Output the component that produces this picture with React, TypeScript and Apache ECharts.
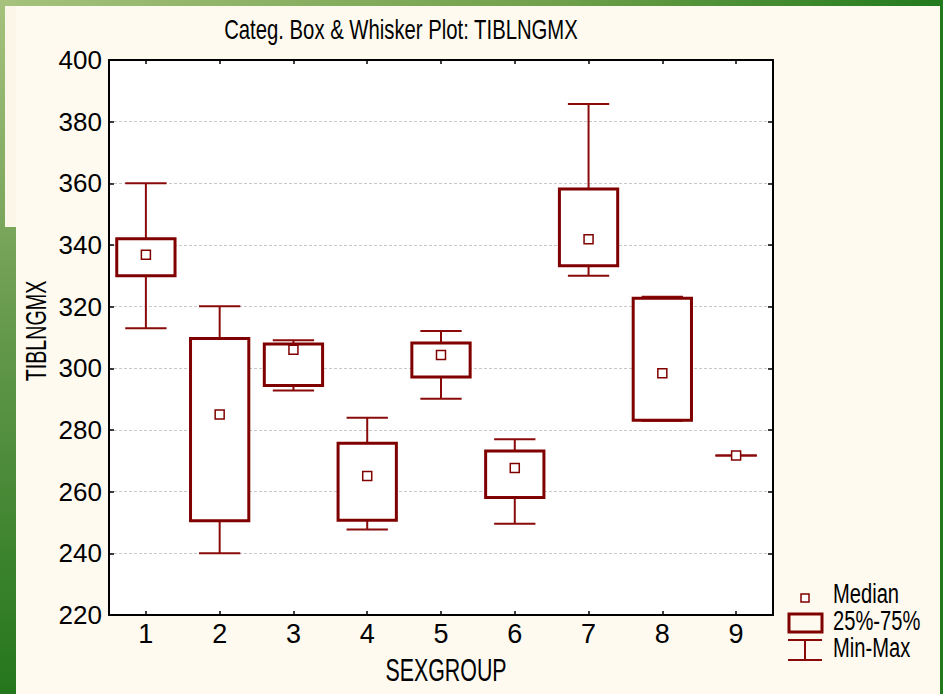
import React, { useEffect, useRef } from "react";
import * as echarts from "echarts";

// Groups on the category axis
const categories = ["1", "2", "3", "4", "5", "6", "7", "8", "9"];

// Box & whisker statistics per group (TIBLNGMX)
const minValues = [313.0, 240.0, 292.8, 247.7, 290.1, 249.6, 330.0, 283.0, 271.7];
const q1Values = [330.0, 250.6, 294.4, 250.7, 297.2, 258.1, 333.3, 283.2, 271.7];
const medianValues = [336.8, 285.0, 306.0, 265.1, 304.3, 267.7, 341.9, 298.4, 271.7];
const q3Values = [342.0, 309.7, 307.9, 275.7, 308.2, 273.2, 358.2, 322.7, 271.7];
const maxValues = [360.0, 320.1, 309.1, 284.0, 312.1, 277.0, 385.7, 323.2, 271.7];

const yTicks = { min: 220, max: 400, interval: 20 };

const titleText = "Categ. Box & Whisker Plot: TIBLNGMX";
const xName = "SEXGROUP";
const yName = "TIBLNGMX";
const legendLabels = ["Median", "25%-75%", "Min-Max"];

const SANS = "'Liberation Sans', Arial, sans-serif";
const BOX = "#800000";
const WHISKER = "#8a0a0a";

export default function App() {
  const ref = useRef<HTMLDivElement>(null);

  useEffect(() => {
    if (!ref.current) return;
    const chart = echarts.init(ref.current, null, { renderer: "svg" });

    const boxData = categories.map((_, i) => [
      i,
      minValues[i],
      q1Values[i],
      medianValues[i],
      q3Values[i],
      maxValues[i],
    ]);

    const renderItem = (params: any, api: any) => {
      const idx = api.value(0);
      const band = api.size([1, 0])[0];
      const boxW = band * 0.79;
      const capW = band * 0.56;
      const [cx, yMin] = api.coord([idx, api.value(1)]);
      const yQ1 = api.coord([idx, api.value(2)])[1];
      const yMed = api.coord([idx, api.value(3)])[1];
      const yQ3 = api.coord([idx, api.value(4)])[1];
      const yMax = api.coord([idx, api.value(5)])[1];
      const lineStyle = { stroke: WHISKER, lineWidth: 2 };
      const children: any[] = [
        { type: "line", shape: { x1: cx, y1: yMax, x2: cx, y2: yMin }, style: lineStyle },
        { type: "line", shape: { x1: cx - capW / 2, y1: yMax, x2: cx + capW / 2, y2: yMax }, style: lineStyle },
        { type: "line", shape: { x1: cx - capW / 2, y1: yMin, x2: cx + capW / 2, y2: yMin }, style: lineStyle },
      ];
      if (Math.abs(yQ1 - yQ3) > 0.5) {
        children.push({
          type: "rect",
          shape: { x: cx - boxW / 2, y: yQ3, width: boxW, height: yQ1 - yQ3 },
          style: { fill: "#ffffff", stroke: BOX, lineWidth: 3 },
        });
      }
      children.push({
        type: "rect",
        shape: { x: cx - 4.5, y: yMed - 4.5, width: 9, height: 9 },
        style: { fill: "#ffffff", stroke: BOX, lineWidth: 1.5 },
      });
      return { type: "group", children };
    };

    const legendX = 805;
    const legendTextX = 833;

    // condensed text helper: the plot's lettering is narrow, so squeeze horizontally
    const squeezed = (text: string, x: number, y: number, size: number, sx: number, align: string, rotation = 0) => ({
      type: "text",
      x,
      y,
      rotation,
      scaleX: sx,
      style: {
        text,
        fill: "#000",
        font: `${size}px ${SANS}`,
        textAlign: align,
        textVerticalAlign: "middle",
      },
    });

    chart.setOption({
      animation: false,
      backgroundColor: "#fefaef",
      grid: {
        left: 109,
        top: 60,
        right: 170,
        bottom: 79,
        show: true,
        backgroundColor: "#ffffff",
        borderWidth: 0,
      },
      xAxis: [
        {
          type: "category",
          data: categories,
          position: "bottom",
          axisLine: { show: true, lineStyle: { color: "#000", width: 2 } },
          axisTick: { show: true, inside: true, length: 4, alignWithLabel: true, lineStyle: { color: "#000", width: 1.5 } },
          axisLabel: { color: "#000", fontSize: 27, fontFamily: SANS, margin: 5 },
          splitLine: { show: false },
        },
        {
          type: "category",
          data: categories,
          position: "top",
          axisLine: { show: true, lineStyle: { color: "#000", width: 2 } },
          axisTick: { show: true, inside: true, length: 4, alignWithLabel: true, lineStyle: { color: "#000", width: 1.5 } },
          axisLabel: { show: false },
          splitLine: { show: false },
        },
      ],
      yAxis: [
        {
          type: "value",
          min: yTicks.min,
          max: yTicks.max,
          interval: yTicks.interval,
          position: "left",
          axisLine: { show: true, lineStyle: { color: "#000", width: 2 } },
          axisTick: { show: true, inside: true, length: 5, lineStyle: { color: "#000", width: 1.5 } },
          axisLabel: { color: "#000", fontSize: 26, fontFamily: SANS, margin: 7 },
          splitLine: { show: true, lineStyle: { color: "#c8c8c8", type: [3, 2], width: 1 } },
        },
        {
          type: "value",
          min: yTicks.min,
          max: yTicks.max,
          interval: yTicks.interval,
          position: "right",
          axisLine: { show: true, lineStyle: { color: "#000", width: 2 } },
          axisTick: { show: true, inside: true, length: 5, lineStyle: { color: "#000", width: 1.5 } },
          axisLabel: { show: false },
          splitLine: { show: false },
        },
      ],
      series: [
        {
          type: "custom",
          xAxisIndex: 0,
          yAxisIndex: 0,
          data: boxData,
          encode: { x: 0, y: [1, 2, 3, 4, 5] },
          renderItem,
          z: 5,
        },
      ],
      graphic: [
        // slide backdrop: green frame around the cream panel
        {
          type: "rect",
          shape: { x: 0, y: 0, width: 943, height: 6 },
          style: {
            fill: new echarts.graphic.LinearGradient(0, 0, 1, 0, [
              { offset: 0, color: "#a6c27c" },
              { offset: 0.6, color: "#6f9f4a" },
              { offset: 1, color: "#217a1c" },
            ]),
          },
          z: -10,
        },
        {
          type: "rect",
          shape: { x: 0, y: 0, width: 16, height: 694 },
          style: {
            fill: new echarts.graphic.LinearGradient(0, 0, 0, 1, [
              { offset: 0, color: "#a6c27c" },
              { offset: 0.5, color: "#62974a" },
              { offset: 1, color: "#24761c" },
            ]),
          },
          z: -10,
        },
        {
          type: "rect",
          shape: { x: 5, y: 6, width: 11, height: 221 },
          style: { fill: "#fbf6e8" },
          z: -9,
        },
        {
          type: "rect",
          shape: { x: 940, y: 0, width: 3, height: 694 },
          style: { fill: "#237a1e" },
          z: -10,
        },
        squeezed(titleText, 401, 29, 28, 0.725, "center"),
        squeezed(xName, 446, 671, 31, 0.69, "center"),
        squeezed(yName, 36, 331, 29, 0.68, "center", Math.PI / 2),
        // legend keys
        {
          type: "rect",
          shape: { x: legendX - 4, y: 594, width: 8, height: 8 },
          style: { fill: "#fff", stroke: BOX, lineWidth: 1.5 },
        },
        {
          type: "rect",
          shape: { x: 789, y: 614, width: 33, height: 18 },
          style: { fill: "none", stroke: BOX, lineWidth: 3 },
        },
        {
          type: "polyline",
          shape: { points: [[788, 640], [822, 640]] },
          style: { stroke: WHISKER, lineWidth: 2 },
        },
        {
          type: "polyline",
          shape: { points: [[legendX, 640], [legendX, 660]] },
          style: { stroke: WHISKER, lineWidth: 2 },
        },
        {
          type: "polyline",
          shape: { points: [[788, 660], [822, 660]] },
          style: { stroke: WHISKER, lineWidth: 2 },
        },
        ...legendLabels.map((t, i) => squeezed(t, legendTextX, 593 + i * 27, 28, 0.72, "left")),
      ],
    });

    return () => chart.dispose();
  }, []);

  return (
    <div
      ref={ref}
      style={{ position: "absolute", left: 0, top: 0, width: 943, height: 694 }}
    />
  );
}
